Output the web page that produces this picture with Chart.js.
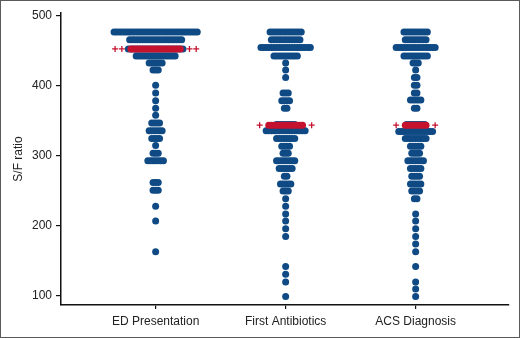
<!DOCTYPE html>
<html>
<head>
<meta charset="utf-8">
<script src="https://cdn.jsdelivr.net/npm/chart.js@4"></script>
<style>
  html, body { margin: 0; padding: 0; background: #fff; }
  #wrap  { position: relative; width: 520px; height: 338px; }
  #frame { position: absolute; left: 0; top: 0; width: 520px; height: 338px;
           box-sizing: border-box; border: 1px solid #5a5a5a; pointer-events: none; }
</style>
</head>
<body>
<div id="wrap">
  <canvas id="chart-sf" width="520" height="338"></canvas>
  <div id="frame"></div>
</div>
<script>
// S/F ratio beeswarm: one row of dots per ratio level, red row = median.

// ── Data ────────────────────────────────────────────────────────────────
const categories = ['ED Presentation', 'First Antibiotics', 'ACS Diagnosis'];
const yTicks     = [100, 200, 300, 400, 500];

const edLevels  = [477, 466, 453, 443, 433, 423, 401, 390, 379, 368, 358, 347, 336, 325, 315, 304, 293, 262, 251, 228, 207, 163];
const edCounts  = [ 33,  21,  22,  16,   6,   3,   1,   1,   1,   1,   1,   4,   6,   4,   1,   3,   7,   3,   3,   1,   1,   1];

const abxLevels = [477, 466, 455, 443, 433, 423, 412, 390, 379, 368, 345, 336, 325, 314, 304, 293, 282, 271, 260, 250, 239, 228, 217, 207, 196, 185, 142, 131, 120, 99];
const abxCounts = [ 13,  12,  20,  10,   1,   1,   1,   3,   4,   2,   8,  16,   8,   4,   3,   8,   6,   2,   5,   3,   1,   1,   1,   1,   1,   1,   1,   1,   1,  1];

const acsLevels = [477, 466, 455, 443, 433, 423, 412, 401, 390, 380, 368, 345, 335, 325, 314, 304, 293, 282, 271, 260, 250, 239, 217, 207, 196, 185, 174, 163, 142, 120, 110, 99];
const acsCounts = [ 10,   9,  16,  10,   3,   1,   2,   2,   2,   5,   2,   8,  14,   9,   5,   4,   7,   5,   4,   5,   4,   2,   1,   1,   1,   1,   1,   1,   1,   1,   1,  1];

const medianLevels  = [453, 344, 344];
const medianCounts  = [20, 14, 9];
const medianCrosses = [2, 1, 1];

// ── Layout helpers ──────────────────────────────────────────────────────
const BLUE = '#0f4a84';
const RED  = '#c4122f';
const STEP = 0.02;          // horizontal spacing between swarm dots (x units)
const FONT = 'Liberation Sans, Arial, Helvetica, sans-serif';

function rowPoints(cat, level, n) {
  const out = [];
  for (let i = 0; i < n; i++) out.push({ x: cat + (i - (n - 1) / 2) * STEP, y: level });
  return out;
}

function swarm(cat, levels, counts) {
  return levels.flatMap((lv, i) => rowPoints(cat, lv, counts[i]));
}

const bluePts = [
  ...swarm(0, edLevels, edCounts),
  ...swarm(1, abxLevels, abxCounts),
  ...swarm(2, acsLevels, acsCounts),
];
const redPts = medianLevels.flatMap((lv, c) => rowPoints(c, lv, medianCounts[c]));
const crossPts = medianLevels.flatMap((lv, c) => {
  const half = (medianCounts[c] - 1) / 2;
  const pts = [];
  for (let k = 0; k < medianCrosses[c]; k++) {
    const off = (half + 3.5 + k * 2.6) * STEP;
    pts.push({ x: c - off, y: lv }, { x: c + off, y: lv });
  }
  return pts;
});

// ── Chart ───────────────────────────────────────────────────────────────
new Chart(document.getElementById('chart-sf').getContext('2d'), {
  type: 'scatter',
  data: {
    datasets: [
      { data: crossPts, pointStyle: 'cross', pointRadius: 3, borderColor: RED, borderWidth: 1.3, order: 0 },
      { data: redPts,   pointRadius: 3.5, backgroundColor: RED,  borderWidth: 0, order: 1 },
      { data: bluePts,  pointRadius: 3.5, backgroundColor: BLUE, borderWidth: 0, order: 2 },
    ]
  },
  options: {
    responsive: false,
    animation: false,
    devicePixelRatio: 1,
    layout: { padding: { top: 13, right: 11, left: 0, bottom: 0 } },
    plugins: { legend: { display: false }, tooltip: { enabled: false } },
    scales: {
      x: {
        type: 'linear',
        min: -0.728, max: 2.718,
        afterBuildTicks: s => { s.ticks = [0, 1, 2].map(v => ({ value: v })); },
        afterFit: s => { s.height = 33; },
        ticks: {
          callback: v => categories[v],
          autoSkip: false, maxRotation: 0, padding: 5,
          color: '#222', font: { family: FONT, size: 12 },
        },
        grid: { drawOnChartArea: false, drawTicks: true, tickLength: 4, color: '#111', lineWidth: 1.2 },
        border: { display: true, color: '#111', width: 1.5 },
      },
      y: {
        min: 87, max: 504.3,
        afterBuildTicks: s => { s.ticks = yTicks.map(v => ({ value: v })); },
        afterFit: s => { s.width = 61; },
        ticks: { padding: 4, color: '#222', font: { family: FONT, size: 12 } },
        grid: { drawOnChartArea: false, drawTicks: true, tickLength: 5, color: '#111', lineWidth: 1.2 },
        border: { display: true, color: '#111', width: 1.5 },
        title: {
          display: true, text: 'S/F ratio', color: '#222',
          font: { family: 'Liberation Sans Narrow, Arial Narrow, sans-serif', size: 12 },
          padding: { top: 11, bottom: 0 },
        },
      }
    }
  }
});
</script>
</body>
</html>
